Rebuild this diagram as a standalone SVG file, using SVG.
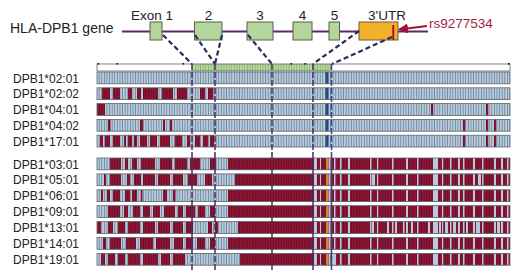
<svg xmlns="http://www.w3.org/2000/svg" xmlns:xlink="http://www.w3.org/1999/xlink" width="520" height="280" viewBox="0 0 520 280">
<style>
text{font-family:"Liberation Sans",Arial,sans-serif;fill:#222}
.gl{font-size:13.5px}
.lbl{font-size:12px}
.exon{fill:#b4d59c;stroke:#55604f;stroke-width:1}
.utr{fill:#f1b22a;stroke:#6b5a3a;stroke-width:1}
.b{fill:url(#pb)}
.r{fill:url(#pr)}
.s{fill:#b6cadc}
.edge{fill:none;stroke:#5d6670;stroke-width:0.8}
.diag{fill:none;stroke:#2e2a5c;stroke-width:2.2;stroke-dasharray:5 3}
.vert{fill:none;stroke:#4a2c66;stroke-width:1.5;stroke-dasharray:6 2}
.dot{fill:#111}
</style>
<defs>
<pattern id="pb" patternUnits="userSpaceOnUse" x="97" y="0" width="2.6" height="300">
<rect width="2.6" height="300" fill="#b7cbdd"/><rect x="1.8" width="0.8" height="300" fill="#6d8196"/>
</pattern>
<pattern id="pr" patternUnits="userSpaceOnUse" x="97" y="0" width="2.6" height="300">
<rect width="2.6" height="300" fill="#8e1434"/><rect x="1.8" width="0.8" height="300" fill="#690d25"/>
</pattern>
<pattern id="pg" patternUnits="userSpaceOnUse" x="97" y="0" width="2.6" height="300">
<rect width="2.6" height="300" fill="#b8dc9c"/><rect x="1.8" width="0.8" height="300" fill="#86a86a"/>
</pattern>
<marker id="arr" viewBox="0 0 10 10" refX="9" refY="5" markerWidth="5" markerHeight="5" orient="auto">
<path d="M0,0 L10,5 L0,10 z" fill="#a3123a"/>
</marker>
<g id="rstripes">
<rect class="s" x="314" y="0" width="3" height="11.8"/>
<rect class="s" x="320" y="0" width="1" height="11.8"/>
<rect class="s" x="328.5" y="0" width="2" height="11.8"/>
<rect class="s" x="334" y="0" width="1.5" height="11.8"/>
<rect class="s" x="340" y="0" width="1.5" height="11.8"/>
<rect class="s" x="348" y="0" width="2" height="11.8"/>
<rect class="s" x="370" y="0" width="1.5" height="11.8"/>
<rect class="s" x="377" y="0" width="1.2" height="11.8"/>
<rect class="s" x="392" y="0" width="1.5" height="11.8"/>
<rect class="s" x="406" y="0" width="2" height="11.8"/>
<rect class="s" x="417" y="0" width="1.5" height="11.8"/>
<rect class="s" x="433" y="0" width="5" height="11.8"/>
<rect class="s" x="442" y="0" width="1.2" height="11.8"/>
<rect class="s" x="450" y="0" width="1.5" height="11.8"/>
<rect class="s" x="458" y="0" width="2" height="11.8"/>
<rect class="s" x="463" y="0" width="1.5" height="11.8"/>
<rect class="s" x="473" y="0" width="2" height="11.8"/>
<rect class="s" x="482" y="0" width="1.5" height="11.8"/>
<rect class="s" x="494" y="0" width="2" height="11.8"/>
<rect class="s" x="501" y="0" width="2" height="11.8"/>
<rect class="s" x="507" y="0" width="1.5" height="11.8"/>
<rect x="326.2" y="0" width="1.6" height="11.8" fill="#f2a81e"/>
</g>
</defs>
<rect width="520" height="280" fill="#fff"/>

<!-- gene model -->
<g id="gene">
<text class="gl" x="10" y="33" style="font-size:14px">HLA-DPB1 gene</text>
<line x1="122" y1="31.5" x2="428" y2="31.5" stroke="#5b2a6e" stroke-width="2"/>
</g>
<g id="exon1"><rect class="exon" x="150" y="22" width="12" height="18"/><text class="gl" x="152" y="20" text-anchor="middle">Exon 1</text></g>
<g id="exon2"><rect class="exon" x="194.5" y="22" width="27.5" height="18"/><text class="gl" x="208.5" y="20" text-anchor="middle">2</text></g>
<g id="exon3"><rect class="exon" x="247" y="22" width="26" height="18"/><text class="gl" x="260" y="20" text-anchor="middle">3</text></g>
<g id="exon4"><rect class="exon" x="293" y="22" width="19" height="18"/><text class="gl" x="302.5" y="20" text-anchor="middle">4</text></g>
<g id="exon5"><rect class="exon" x="329" y="22" width="10.5" height="18"/><text class="gl" x="334.5" y="20" text-anchor="middle">5</text></g>
<g id="utr3"><rect class="utr" x="359" y="22" width="39" height="18"/><line x1="393.3" y1="25" x2="393.3" y2="40" stroke="#b0122c" stroke-width="2"/><text class="gl" x="387" y="20" text-anchor="middle">3'UTR</text></g>
<g id="rs9277534">
<text class="gl" x="429" y="28.3" style="fill:#a31e3e">rs9277534</text>
<line x1="427" y1="26" x2="399" y2="29.5" stroke="#a3123a" stroke-width="2" marker-end="url(#arr)"/>
</g>

<!-- alignment -->
<g id="header">
<rect x="97" y="64" width="413" height="7" fill="#fff"/>
<rect x="192" y="64" width="139" height="7" fill="url(#pg)"/>
<rect class="edge" x="97" y="64" width="413" height="7"/>
<rect class="dot" x="97.5" y="63" width="1.6" height="1.6"/>
<rect class="dot" x="116.5" y="63" width="1.6" height="1.6"/>
<rect class="dot" x="182.5" y="63" width="1.6" height="1.6"/>
<rect class="dot" x="290.5" y="63" width="1.6" height="1.6"/>
<rect class="dot" x="304.5" y="63" width="1.6" height="1.6"/>
<rect class="dot" x="508" y="63" width="1.6" height="1.6"/>
</g>

<g id="row-02-01">
<text class="lbl" x="13" y="82.5">DPB1*02:01</text>
<g transform="translate(0,72)">
<rect class="b" x="97" y="0" width="413" height="11.8"/>
<rect x="325.5" y="0" width="3" height="11.8" fill="#2c4a6e"/>
<rect class="edge" x="97" y="0" width="413" height="11.8"/>
</g>
</g>
<g id="row-02-02">
<text class="lbl" x="13" y="98.3">DPB1*02:02</text>
<g transform="translate(0,87.8)">
<rect class="b" x="97" y="0" width="413" height="11.8"/>
<rect class="r" x="102" y="0" width="8" height="11.8"/><rect class="r" x="113" y="0" width="7" height="11.8"/>
<rect class="r" x="128" y="0" width="4" height="11.8"/><rect class="r" x="137" y="0" width="4" height="11.8"/>
<rect class="r" x="143" y="0" width="15" height="11.8"/><rect class="r" x="162" y="0" width="11" height="11.8"/>
<rect class="r" x="177" y="0" width="10" height="11.8"/><rect class="r" x="200" y="0" width="5" height="11.8"/>
<rect class="r" x="208" y="0" width="5" height="11.8"/>
<rect x="325.5" y="0" width="3" height="11.8" fill="#2c4a6e"/>
<rect class="edge" x="97" y="0" width="413" height="11.8"/>
</g>
</g>
<g id="row-04-01">
<text class="lbl" x="13" y="114.1">DPB1*04:01</text>
<g transform="translate(0,103.6)">
<rect class="b" x="97" y="0" width="413" height="11.8"/>
<rect class="r" x="97" y="0" width="8" height="11.8"/>
<rect class="r" x="431" y="0" width="2.2" height="11.8"/><rect class="r" x="486" y="0" width="2.2" height="11.8"/>
<rect x="325.5" y="0" width="3" height="11.8" fill="#2c4a6e"/>
<rect class="edge" x="97" y="0" width="413" height="11.8"/>
</g>
</g>
<g id="row-04-02">
<text class="lbl" x="13" y="129.9">DPB1*04:02</text>
<g transform="translate(0,119.4)">
<rect class="b" x="97" y="0" width="413" height="11.8"/>
<rect class="r" x="108" y="0" width="2.5" height="11.8"/><rect class="r" x="140" y="0" width="3" height="11.8"/>
<rect class="r" x="163" y="0" width="2" height="11.8"/><rect class="r" x="170" y="0" width="2" height="11.8"/>
<rect class="r" x="463" y="0" width="2.2" height="11.8"/><rect class="r" x="486" y="0" width="2.2" height="11.8"/>
<rect class="r" x="494" y="0" width="2.2" height="11.8"/>
<rect x="325.5" y="0" width="3" height="11.8" fill="#2c4a6e"/>
<rect class="edge" x="97" y="0" width="413" height="11.8"/>
</g>
</g>
<g id="row-17-01">
<text class="lbl" x="13" y="145.7">DPB1*17:01</text>
<g transform="translate(0,135.2)">
<rect class="b" x="97" y="0" width="413" height="11.8"/>
<rect class="r" x="100" y="0" width="3" height="11.8"/><rect class="r" x="105" y="0" width="5" height="11.8"/>
<rect class="r" x="113" y="0" width="7" height="11.8"/><rect class="r" x="124" y="0" width="2" height="11.8"/>
<rect class="r" x="128" y="0" width="4" height="11.8"/><rect class="r" x="134" y="0" width="3" height="11.8"/>
<rect class="r" x="140" y="0" width="7" height="11.8"/><rect class="r" x="150" y="0" width="7" height="11.8"/>
<rect class="r" x="160" y="0" width="10" height="11.8"/><rect class="r" x="175" y="0" width="7" height="11.8"/>
<rect class="r" x="187" y="0" width="3" height="11.8"/><rect class="r" x="195" y="0" width="5" height="11.8"/>
<rect class="r" x="203" y="0" width="5" height="11.8"/><rect class="r" x="210" y="0" width="4" height="11.8"/>
<rect class="r" x="463" y="0" width="2.2" height="11.8"/><rect class="r" x="486" y="0" width="2.2" height="11.8"/>
<rect class="r" x="494" y="0" width="2.2" height="11.8"/>
<rect x="325.5" y="0" width="3" height="11.8" fill="#2c4a6e"/>
<rect class="edge" x="97" y="0" width="413" height="11.8"/>
</g>
</g>

<g id="row-03-01">
<text class="lbl" x="13" y="168.5">DPB1*03:01</text>
<g transform="translate(0,158)">
<rect class="b" x="97" y="0" width="413" height="11.8"/>
<rect class="r" x="110" y="0" width="11" height="11.8"/><rect class="r" x="125" y="0" width="3" height="11.8"/>
<rect class="r" x="132" y="0" width="5" height="11.8"/><rect class="r" x="141" y="0" width="14" height="11.8"/>
<rect class="r" x="160" y="0" width="12" height="11.8"/><rect class="r" x="175" y="0" width="12" height="11.8"/>
<rect class="r" x="190" y="0" width="10" height="11.8"/><rect class="r" x="210" y="0" width="6" height="11.8"/>
<rect class="r" x="228" y="0" width="282" height="11.8"/>
<use xlink:href="#rstripes"/>
<rect class="edge" x="97" y="0" width="413" height="11.8"/>
</g>
</g>
<g id="row-05-01">
<text class="lbl" x="13" y="184.4">DPB1*05:01</text>
<g transform="translate(0,173.9)">
<rect class="b" x="97" y="0" width="413" height="11.8"/>
<rect class="r" x="104" y="0" width="2" height="11.8"/><rect class="r" x="110" y="0" width="11" height="11.8"/>
<rect class="r" x="127" y="0" width="3" height="11.8"/><rect class="r" x="134" y="0" width="7" height="11.8"/>
<rect class="r" x="143" y="0" width="12" height="11.8"/><rect class="r" x="158" y="0" width="12" height="11.8"/>
<rect class="r" x="173" y="0" width="10" height="11.8"/><rect class="r" x="188" y="0" width="9" height="11.8"/>
<rect class="r" x="205" y="0" width="7" height="11.8"/>
<rect class="r" x="235" y="0" width="275" height="11.8"/>
<use xlink:href="#rstripes"/>
<rect class="s" x="372" y="0" width="3" height="11.8"/><rect class="s" x="478" y="0" width="3" height="11.8"/>
<rect class="edge" x="97" y="0" width="413" height="11.8"/>
</g>
</g>
<g id="row-06-01">
<text class="lbl" x="13" y="200.3">DPB1*06:01</text>
<g transform="translate(0,189.8)">
<rect class="b" x="97" y="0" width="413" height="11.8"/>
<rect class="r" x="101" y="0" width="2" height="11.8"/><rect class="r" x="107" y="0" width="3" height="11.8"/>
<rect class="r" x="113" y="0" width="7" height="11.8"/><rect class="r" x="125" y="0" width="5" height="11.8"/>
<rect class="r" x="132" y="0" width="5" height="11.8"/><rect class="r" x="141" y="0" width="1.5" height="11.8"/>
<rect class="r" x="163" y="0" width="4" height="11.8"/><rect class="r" x="173" y="0" width="2.5" height="11.8"/>
<rect class="r" x="228" y="0" width="282" height="11.8"/>
<use xlink:href="#rstripes"/>
<rect class="edge" x="97" y="0" width="413" height="11.8"/>
</g>
</g>
<g id="row-09-01">
<text class="lbl" x="13" y="216.2">DPB1*09:01</text>
<g transform="translate(0,205.7)">
<rect class="b" x="97" y="0" width="413" height="11.8"/>
<rect class="r" x="108" y="0" width="12" height="11.8"/><rect class="r" x="124" y="0" width="4" height="11.8"/>
<rect class="r" x="133" y="0" width="7" height="11.8"/><rect class="r" x="143" y="0" width="7" height="11.8"/>
<rect class="r" x="153" y="0" width="7" height="11.8"/><rect class="r" x="164" y="0" width="11" height="11.8"/>
<rect class="r" x="178" y="0" width="5" height="11.8"/><rect class="r" x="186" y="0" width="9" height="11.8"/>
<rect class="r" x="198" y="0" width="7" height="11.8"/><rect class="r" x="210" y="0" width="5" height="11.8"/>
<rect class="r" x="228" y="0" width="282" height="11.8"/>
<use xlink:href="#rstripes"/>
<rect class="edge" x="97" y="0" width="413" height="11.8"/>
</g>
</g>
<g id="row-13-01">
<text class="lbl" x="13" y="232.1">DPB1*13:01</text>
<g transform="translate(0,221.6)">
<rect class="b" x="97" y="0" width="413" height="11.8"/>
<rect class="r" x="97" y="0" width="4" height="11.8"/><rect class="r" x="108" y="0" width="5" height="11.8"/>
<rect class="r" x="118" y="0" width="7" height="11.8"/><rect class="r" x="128" y="0" width="12" height="11.8"/>
<rect class="r" x="143" y="0" width="12" height="11.8"/><rect class="r" x="158" y="0" width="12" height="11.8"/>
<rect class="r" x="173" y="0" width="10" height="11.8"/><rect class="r" x="186" y="0" width="7" height="11.8"/>
<rect class="r" x="208" y="0" width="4" height="11.8"/><rect class="r" x="215" y="0" width="3" height="11.8"/>
<rect class="r" x="238" y="0" width="272" height="11.8"/>
<use xlink:href="#rstripes"/>
<rect class="s" x="372" y="0" width="2" height="11.8"/><rect class="s" x="387" y="0" width="2" height="11.8"/>
<rect class="s" x="395" y="0" width="2" height="11.8"/><rect class="s" x="403" y="0" width="1.5" height="11.8"/>
<rect class="s" x="411" y="0" width="2" height="11.8"/>
<rect class="s" x="428" y="0" width="2" height="11.8"/><rect class="s" x="439" y="0" width="2" height="11.8"/>
<rect class="s" x="445" y="0" width="3" height="11.8"/><rect class="s" x="453" y="0" width="3" height="11.8"/>
<rect class="s" x="466" y="0" width="2" height="11.8"/>
<rect class="s" x="476" y="0" width="4" height="11.8"/><rect class="s" x="497" y="0" width="3" height="11.8"/>
<rect class="edge" x="97" y="0" width="413" height="11.8"/>
</g>
</g>
<g id="row-14-01">
<text class="lbl" x="13" y="248">DPB1*14:01</text>
<g transform="translate(0,237.5)">
<rect class="b" x="97" y="0" width="413" height="11.8"/>
<rect class="r" x="103" y="0" width="3" height="11.8"/><rect class="r" x="110" y="0" width="11" height="11.8"/>
<rect class="r" x="126" y="0" width="10" height="11.8"/><rect class="r" x="140" y="0" width="13" height="11.8"/>
<rect class="r" x="156" y="0" width="14" height="11.8"/><rect class="r" x="174" y="0" width="9" height="11.8"/>
<rect class="r" x="186" y="0" width="7" height="11.8"/><rect class="r" x="197" y="0" width="8" height="11.8"/>
<rect class="r" x="210" y="0" width="5" height="11.8"/>
<rect class="r" x="228" y="0" width="282" height="11.8"/>
<use xlink:href="#rstripes"/>
<rect class="edge" x="97" y="0" width="413" height="11.8"/>
</g>
</g>
<g id="row-19-01">
<text class="lbl" x="13" y="263.9">DPB1*19:01</text>
<g transform="translate(0,253.4)">
<rect class="b" x="97" y="0" width="413" height="11.8"/>
<rect class="r" x="101" y="0" width="4" height="11.8"/><rect class="r" x="108" y="0" width="7" height="11.8"/>
<rect class="r" x="118" y="0" width="7" height="11.8"/><rect class="r" x="128" y="0" width="12" height="11.8"/>
<rect class="r" x="143" y="0" width="15" height="11.8"/><rect class="r" x="161" y="0" width="9" height="11.8"/>
<rect class="r" x="173" y="0" width="12" height="11.8"/>
<rect class="r" x="240" y="0" width="270" height="11.8"/>
<use xlink:href="#rstripes"/>
<rect class="s" x="332" y="0" width="4" height="11.8"/>
<rect class="edge" x="97" y="0" width="413" height="11.8"/>
</g>
</g>

<!-- connectors -->
<g id="connectors">
<line class="diag" x1="163" y1="35" x2="192" y2="64"/>
<line class="diag" x1="195" y1="35" x2="215" y2="64"/>
<line class="diag" x1="222" y1="35" x2="215" y2="64"/>
<line class="diag" x1="248" y1="35" x2="272" y2="64"/>
<line class="diag" x1="359" y1="31" x2="313" y2="64"/>
<line class="diag" x1="392" y1="37" x2="332" y2="64"/>
<line class="vert" x1="192" y1="64" x2="192" y2="270"/>
<line class="vert" x1="215" y1="64" x2="215" y2="270"/>
<line class="vert" x1="272" y1="64" x2="272" y2="270"/>
<line class="vert" x1="313" y1="64" x2="313" y2="270"/>
<line class="vert" x1="331.5" y1="64" x2="331.5" y2="270" style="stroke:#3b3f8c"/>
</g>
</svg>
